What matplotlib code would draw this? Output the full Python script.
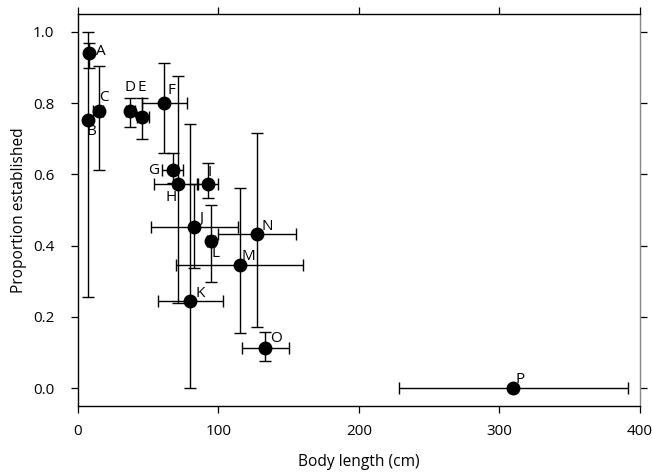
import numpy as np
import matplotlib
matplotlib.use("Agg")
import matplotlib.pyplot as plt

plt.rcParams['font.family'] = ['Open Sans', 'DejaVu Sans']

# species labels and values
labels = ['A', 'B', 'C', 'D', 'E', 'F', 'G', 'H', 'I', 'J', 'K', 'L', 'M', 'N', 'O', 'P']
body_len = [7.5, 7.0, 14.7, 37.0, 45.6, 61.4, 67.8, 71.4, 92.3, 82.6, 79.9, 94.4, 115.3, 127.4, 133.1, 309.8]
prop_est = [0.94, 0.753, 0.778, 0.778, 0.761, 0.801, 0.612, 0.573, 0.573, 0.453, 0.245, 0.414, 0.345, 0.433, 0.113, 0.0]
len_lo = [6.5, 7.0, 10.7, 33.9, 42.2, 45.5, 59.5, 54.1, 85.2, 51.7, 57.2, 91.5, 69.8, 99.4, 116.7, 228.2]
len_hi = [8.5, 7.0, 18.1, 40.6, 50.7, 77.4, 74.5, 84.5, 99.9, 114.0, 103.0, 97.3, 160.4, 154.9, 150.2, 391.5]
prop_lo = [0.899, 0.255, 0.612, 0.734, 0.700, 0.660, 0.575, 0.238, 0.533, 0.336, 0.0, 0.299, 0.155, 0.171, 0.076, 0.0]
prop_hi = [0.969, 1.0, 0.904, 0.815, 0.815, 0.912, 0.660, 0.875, 0.633, 0.573, 0.742, 0.514, 0.563, 0.715, 0.158, 0.0]

# label offsets in pixels from the point
lab_dx = [12, 4, 5, 0, 0, 7, -20, -7, 2, 7, 10, 5, 8, 10, 11, 7]
lab_dy = [2, -12, 13, 23, 29, 12, 0, -14, 11, 8, 7, -13, 9, 7, 9, 9]

x = np.array(body_len)
y = np.array(prop_est)
xerr = np.array([x - np.array(len_lo), np.array(len_hi) - x])
yerr = np.array([y - np.array(prop_lo), np.array(prop_hi) - y])

fig = plt.figure(figsize=(6.52, 4.75), dpi=100)
ax = fig.add_axes([0.1196, 0.1453, 0.862, 0.8252])

ax.errorbar(x, y, xerr=xerr, yerr=yerr, fmt='o', color='k', ecolor='k',
            markersize=9, elinewidth=1.0, capsize=4.3, capthick=1.0, zorder=3)

for i in range(len(labels)):
    ax.annotate(labels[i], (x[i], y[i]), xytext=(lab_dx[i], lab_dy[i]),
                textcoords='offset pixels', ha='center', va='center', fontsize=11)

ax.set_xlim(0, 400)
ax.set_ylim(-0.05, 1.05)
ax.set_xticks([0, 100, 200, 300, 400])
ax.set_yticks([0.0, 0.2, 0.4, 0.6, 0.8, 1.0])
ax.set_yticklabels(['0.0', '0.2', '0.4', '0.6', '0.8', '1.0'])
ax.tick_params(direction='out', length=5, width=0.9, labelsize=11,
               top=True, right=True, labeltop=False, labelright=False)
ax.tick_params(axis='x', pad=8)
ax.tick_params(axis='y', pad=12)
for s in ax.spines.values():
    s.set_linewidth(1.0)
ax.spines['right'].set_color('#888888')

ax.set_xlabel('Body length (cm)', fontsize=11.2, labelpad=11)
ax.set_ylabel('Proportion established', fontsize=11.2, labelpad=4)

fig.savefig('out.png', dpi=100)
